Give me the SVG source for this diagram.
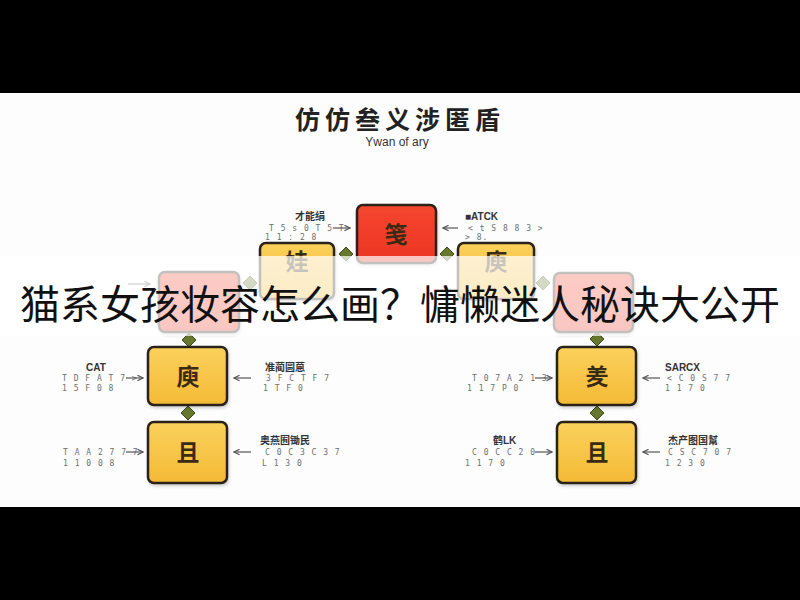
<svg xmlns="http://www.w3.org/2000/svg" width="800" height="600" viewBox="0 0 800 600">
<defs>
<linearGradient id="gy" x1="0" y1="0" x2="0" y2="1"><stop offset="0" stop-color="#fbd15c"/><stop offset="1" stop-color="#f4ba36"/></linearGradient>
<linearGradient id="gr" x1="0" y1="0" x2="0" y2="1"><stop offset="0" stop-color="#f5462f"/><stop offset="1" stop-color="#ec3524"/></linearGradient>
<marker id="ah" viewBox="0 0 10 10" refX="9" refY="5" markerWidth="7" markerHeight="7" orient="auto-start-reverse" markerUnits="userSpaceOnUse"><path d="M1,1 L9,5 L1,9" fill="none" stroke="#555" stroke-width="1.6"/></marker>
<filter id="sh" x="-10%" y="-10%" width="130%" height="130%"><feDropShadow dx="1" dy="2" stdDeviation="1.5" flood-color="#000" flood-opacity="0.18"/></filter>
</defs>
<style>
.nd{stroke:#2b2418;stroke-width:2.5;filter:url(#sh)}
.red{fill:url(#gr)}
.yel{fill:url(#gy)}
.ch{font-family:"Noto Sans CJK SC","Noto Sans CJK JP",sans-serif;font-size:23px;font-weight:700;fill:#3b2a12;text-anchor:middle}
.lbl{font-family:"Liberation Sans","Noto Sans CJK SC",sans-serif;font-size:10px;font-weight:bold;fill:#333}
.sm{font-family:"DejaVu Sans Mono",monospace;font-size:8px;fill:#6f6f6f;letter-spacing:1px}
.arr{stroke:#555;stroke-width:1.2;fill:none;marker-end:url(#ah)}
.dia{fill:#66772e;stroke:#3c4818;stroke-width:1}
</style>
<rect x="0" y="0" width="800" height="600" fill="#000"/>
<rect x="0" y="93" width="800" height="414" fill="#fdfdfd"/>
<g id="title">
<text x="400" y="129" font-family="Noto Sans CJK SC, sans-serif" font-size="25" font-weight="700" fill="#222" text-anchor="middle" letter-spacing="5">仿仿叁义涉匿盾</text>
<text x="397" y="146" font-family="Liberation Sans, sans-serif" font-size="12" fill="#333" text-anchor="middle">Ywan of ary</text>
</g>
<g id="connectors">
<polygon class="dia" points="346,247 353,254 346,261 339,254"/>
<polygon class="dia" points="447,247 454,254 447,261 440,254"/>
<polygon class="dia" points="250,276 257,283 250,290 243,283"/>
<polygon class="dia" points="543,276 550,283 543,290 536,283"/>
<polygon class="dia" points="189,333 196,340 189,347 182,340" fill="#c9d0b0"/>
<polygon class="dia" points="597,332 604,339 597,346 590,339" fill="#c9d0b0"/>
<polygon class="dia" points="188,406 195,413 188,420 181,413"/>
<polygon class="dia" points="597,406 604,413 597,420 590,413"/>
</g>
<g id="n1"><rect class="nd red" x="357" y="205" width="79" height="58" rx="6"/><text class="ch" x="396" y="243">笺</text></g>
<g id="n2l"><rect class="nd yel" x="260" y="243" width="74" height="56" rx="6"/><text class="ch" x="297" y="270" font-size="20">娃</text></g>
<g id="n2r"><rect class="nd yel" x="458" y="243" width="76" height="56" rx="6"/><text class="ch" x="496" y="270" font-size="20">庾</text></g>
<g id="n3l"><rect class="nd red" x="159" y="272" width="80" height="60" rx="6"/></g>
<g id="n3r"><rect class="nd red" x="554" y="273" width="79" height="59" rx="6"/></g>
<g id="n4l"><rect class="nd yel" x="148" y="347" width="79" height="58" rx="6"/><text class="ch" x="188" y="385">庾</text></g>
<g id="n4r"><rect class="nd yel" x="557" y="347" width="79" height="58" rx="6"/><text class="ch" x="597" y="385">羑</text></g>
<g id="n5l"><rect class="nd yel" x="148" y="422" width="79" height="61" rx="6"/><text class="ch" x="188" y="461">且</text></g>
<g id="n5r"><rect class="nd yel" x="557" y="422" width="79" height="61" rx="6"/><text class="ch" x="597" y="461">且</text></g>
<g id="annotations">
<text class="lbl" x="295" y="220">才能绢</text>
<text class="sm" x="269" y="231">T 5 s 0 T 5 T</text>
<text class="sm" x="265" y="240">1 1 : 2 8</text>
<line class="arr" x1="333" y1="228" x2="350" y2="228"/>
<text class="lbl" x="465" y="220">■ATCK</text>
<text class="sm" x="468" y="231">&lt; t S 8 8 3 &gt;</text>
<text class="sm" x="465" y="240">&gt; 8.</text>
<line class="arr" x1="458" y1="228" x2="443" y2="228"/>

<line class="arr" x1="128" y1="284" x2="150" y2="284"/>
<line class="arr" x1="475" y1="300" x2="492" y2="300"/>

<text class="lbl" x="86" y="371">CAT</text>
<text class="sm" x="62" y="381">T D F A T 7 &gt;</text>
<text class="sm" x="62" y="391">1 5 F 0 8</text>
<line class="arr" x1="126" y1="378" x2="143" y2="378"/>
<text class="lbl" x="265" y="371">准蔺圆蒽</text>
<text class="sm" x="266" y="381">3 F C T F 7</text>
<text class="sm" x="263" y="391">1 T F 0</text>
<line class="arr" x1="251" y1="378" x2="234" y2="378"/>

<text class="sm" x="472" y="381">T 0 7 A 2 1 3</text>
<text class="sm" x="467" y="391">1 1 7 P 0</text>
<line class="arr" x1="535" y1="378" x2="552" y2="378"/>
<text class="lbl" x="665" y="371">SARCX</text>
<text class="sm" x="667" y="381">&lt; C 0 S 7 7</text>
<text class="sm" x="665" y="391">1 1 7 0</text>
<line class="arr" x1="660" y1="378" x2="643" y2="378"/>

<text class="sm" x="63" y="455">T A A 2 7 7 7</text>
<text class="sm" x="63" y="466">1 1 0 0 8</text>
<line class="arr" x1="126" y1="452" x2="143" y2="452"/>
<text class="lbl" x="260" y="444">奥燕囿锄民</text>
<text class="sm" x="265" y="455">C 0 C 3 C 3 7</text>
<text class="sm" x="262" y="466">L 1 3 0</text>
<line class="arr" x1="251" y1="452" x2="234" y2="452"/>

<text class="lbl" x="493" y="444">鹤LK</text>
<text class="sm" x="472" y="455">C 0 C C 2 0</text>
<text class="sm" x="465" y="466">1 1 7 0</text>
<line class="arr" x1="535" y1="452" x2="552" y2="452"/>
<text class="lbl" x="668" y="444">杰产图国幫</text>
<text class="sm" x="668" y="455">C S C 7 0 7</text>
<text class="sm" x="665" y="466">1 2 3 0</text>
<line class="arr" x1="660" y1="452" x2="643" y2="452"/>
</g>
<rect id="band" x="0" y="256" width="800" height="80" fill="#ffffff" fill-opacity="0.72"/>
<text id="caption" x="400" y="319" font-family="Noto Sans CJK SC, sans-serif" font-size="40" fill="#111" text-anchor="middle">猫系女孩妆容怎么画？慵懒迷人秘诀大公开</text>
</svg>
